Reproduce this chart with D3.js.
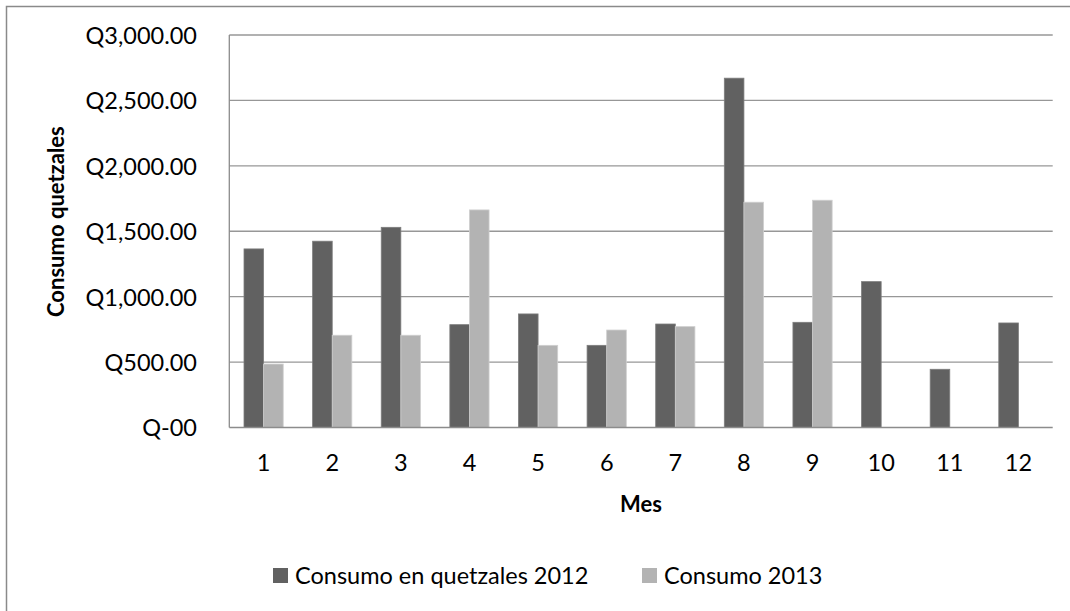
<!DOCTYPE html>
<html>
<head>
<meta charset="utf-8">
<script src="https://cdn.jsdelivr.net/npm/d3@7"></script>
<style>
  html, body { margin: 0; padding: 0; background: #fff; }
  svg { display: block; font-family: Lato, "Open Sans", sans-serif; }
</style>
</head>
<body>
<svg id="chart" width="1070" height="611"></svg>
<script>
// Monthly consumption in quetzales
const months = ["1", "2", "3", "4", "5", "6", "7", "8", "9", "10", "11", "12"];
const consumo2012 = [1365, 1424, 1530, 786, 868, 628, 791, 2670, 804, 1115, 445, 799];
const consumo2013 = [485, 705, 705, 1663, 628, 745, 771, 1722, 1737, null, null, null];
const seriesNames = ["Consumo en quetzales 2012", "Consumo 2013"];
const seriesColors = ["#616161", "#b3b3b3"];
const seriesStrokes = ["#7d7d7d", "#cfcfcf"];
const yTickValues = [0, 500, 1000, 1500, 2000, 2500, 3000];
const yTickLabels = ["Q-00", "Q500.00", "Q1,000.00", "Q1,500.00", "Q2,000.00", "Q2,500.00", "Q3,000.00"];

const svg = d3.select("#chart");
const labelSize = 23.5;
const titleSize = 22;

// chart frame
svg.append("rect")
  .attr("x", 6.5).attr("y", 6.5)
  .attr("width", 1200).attr("height", 800)
  .attr("fill", "none").attr("stroke", "#8a8a8a").attr("stroke-width", 1.5);

const plot = { left: 229.3, right: 1052.7, top: 35, bottom: 427.5 };

const x = d3.scaleBand().domain(months).range([plot.left, plot.right]).padding(0);
const xSub = d3.scaleBand().domain([0, 1]).range([0, x.bandwidth()])
  .paddingInner(0).paddingOuter(0.75);
const y = d3.scaleLinear().domain([0, 3000]).range([plot.bottom, plot.top]);

// horizontal gridlines
svg.append("g").selectAll("line")
  .data(yTickValues.filter(v => v > 0))
  .join("line")
  .attr("x1", plot.left).attr("x2", plot.right)
  .attr("y1", d => y(d)).attr("y2", d => y(d))
  .attr("stroke", "#979797").attr("stroke-width", 1.3);

// bars
const rows = months.map((m, i) => ({ m, vals: [consumo2012[i], consumo2013[i]] }));
const groups = svg.append("g").selectAll("g")
  .data(rows).join("g")
  .attr("transform", d => `translate(${x(d.m)},0)`);
groups.selectAll("rect")
  .data(d => d.vals.map((v, s) => ({ v, s })).filter(e => e.v != null))
  .join("rect")
  .attr("x", d => xSub(d.s))
  .attr("width", xSub.bandwidth())
  .attr("y", d => y(d.v))
  .attr("height", d => y(0) - y(d.v))
  .attr("fill", d => seriesColors[d.s])
  .attr("stroke", d => seriesStrokes[d.s])
  .attr("stroke-width", 0.8);

// axes lines
const axisColor = "#8c8c8c";
svg.append("line")
  .attr("x1", plot.left).attr("x2", plot.left)
  .attr("y1", plot.top).attr("y2", plot.bottom)
  .attr("stroke", axisColor).attr("stroke-width", 1.3);
svg.append("line")
  .attr("x1", plot.left).attr("x2", plot.right)
  .attr("y1", plot.bottom).attr("y2", plot.bottom)
  .attr("stroke", axisColor).attr("stroke-width", 1.3);

// y axis labels
const yAxis = d3.axisLeft(y).tickValues(yTickValues)
  .tickFormat((d, i) => yTickLabels[i]).tickSize(0).tickPadding(0);
const gy = svg.append("g").attr("transform", `translate(197,0)`).call(yAxis);
gy.select(".domain").remove();
gy.selectAll("text")
  .attr("font-family", "Lato, sans-serif")
  .attr("font-size", labelSize).attr("fill", "#000")
  .attr("dy", "0.36em");

// x axis labels
const xAxis = d3.axisBottom(x).tickSize(0).tickPadding(0);
const gx = svg.append("g").attr("transform", `translate(0,471)`).call(xAxis);
gx.select(".domain").remove();
gx.selectAll("text")
  .attr("font-family", "Lato, sans-serif")
  .attr("font-size", labelSize).attr("fill", "#000")
  .attr("dy", 0).attr("y", 0);

// axis titles
svg.append("text")
  .attr("x", (plot.left + plot.right) / 2).attr("y", 512)
  .attr("text-anchor", "middle")
  .attr("font-size", titleSize).attr("font-weight", "bold")
  .text("Mes");
svg.append("text")
  .attr("transform", "translate(64,221.6) rotate(-90)")
  .attr("text-anchor", "middle")
  .attr("font-size", titleSize).attr("font-weight", "bold")
  .text("Consumo quetzales");

// legend
const legendX = [273, 642];
const legend = svg.append("g").selectAll("g")
  .data(seriesNames).join("g")
  .attr("transform", (d, i) => `translate(${legendX[i]},0)`);
legend.append("rect")
  .attr("x", 0).attr("y", 568).attr("width", 15).attr("height", 15)
  .attr("fill", (d, i) => seriesColors[i]);
legend.append("text")
  .attr("x", 22).attr("y", 584)
  .attr("font-size", labelSize).attr("fill", "#000")
  .text(d => d);
</script>
</body>
</html>
